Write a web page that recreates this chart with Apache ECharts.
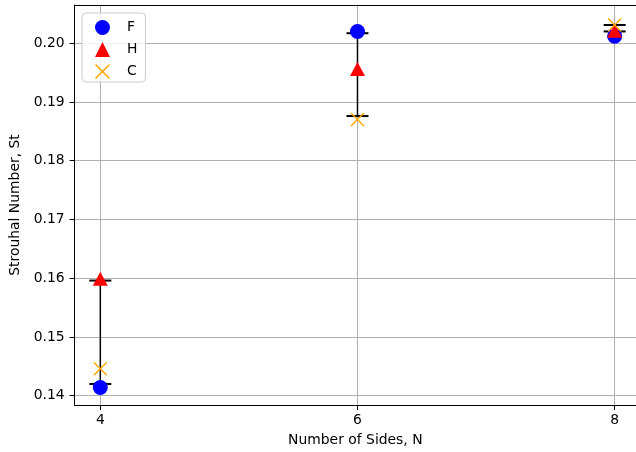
<!DOCTYPE html>
<html>
<head>
<meta charset="utf-8">
<script src="https://cdn.jsdelivr.net/npm/echarts@6/dist/echarts.min.js"></script>
<style>html,body{margin:0;padding:0;background:#fff;}#c{width:636px;height:452px;}</style>
</head>
<body>
<div id="c"></div>
<script>
const sides = [4, 6, 8];
const valF = [0.1414, 0.2020, 0.2012];
const valH = [0.1599, 0.1956, 0.2021];
const valC = [0.1446, 0.1870, 0.2031];
const errLow = [0.1420, 0.1876, 0.2020];
const errHigh = [0.1596, 0.2017, 0.2031];
const xTicks = [4, 6, 8];
const yTicks = [0.14, 0.15, 0.16, 0.17, 0.18, 0.19, 0.20];

const FONT = 'DejaVu Sans';
const xShape = 'path://M0,7L7,0L50,43L93,0L100,7L57,50L100,93L93,100L50,57L7,100L0,93L43,50Z';

const chart = echarts.init(document.getElementById('c'), null, {renderer: 'canvas'});
chart.setOption({
  animation: false,
  backgroundColor: '#fff',
  textStyle: {fontFamily: FONT},
  grid: {left: 74.6, right: 0, top: 5, bottom: 46},
  legend: {
    left: 82, top: 13, orient: 'vertical',
    padding: [7, 8, 3, 13],
    itemWidth: 15, itemHeight: 15, itemGap: 7,
    backgroundColor: 'rgba(255,255,255,0.8)',
    borderColor: '#cccccc', borderWidth: 1, borderRadius: 4,
    textStyle: {fontFamily: FONT, fontSize: 13.9, color: '#000', padding: [0, 0, 0, 12]},
    data: [
      {name: 'F', icon: 'circle'},
      {name: 'H', icon: 'triangle'},
      {name: 'C', icon: xShape}
    ]
  },
  xAxis: [{
    type: 'value', min: 3.8, max: 8.166, position: 'bottom',
    name: 'Number of Sides, N', nameLocation: 'middle', nameGap: 28,
    nameTextStyle: {fontFamily: FONT, fontSize: 13.9, color: '#000'},
    axisLine: {show: true, onZero: false, lineStyle: {color: '#000', width: 1}},
    axisTick: {show: true, length: 5, lineStyle: {color: '#000'}, customValues: xTicks},
    axisLabel: {fontFamily: FONT, fontSize: 13.9, color: '#000', margin: 8, customValues: xTicks, formatter: v => String(v)},
    splitLine: {show: true, lineStyle: {color: '#b0b0b0', width: 1}}
  }, {
    type: 'value', min: 3.8, max: 8.166, position: 'top',
    axisLine: {show: true, onZero: false, lineStyle: {color: '#000', width: 1}},
    axisTick: {show: false}, axisLabel: {show: false}, splitLine: {show: false}
  }],
  yAxis: {
    type: 'value', min: 0.13842, max: 0.2065,
    name: 'Strouhal Number, St', nameLocation: 'middle', nameGap: 52,
    nameTextStyle: {fontFamily: FONT, fontSize: 13.9, color: '#000'},
    axisLine: {show: true, onZero: false, lineStyle: {color: '#000', width: 1}},
    axisTick: {show: true, length: 5, lineStyle: {color: '#000'}, customValues: yTicks},
    axisLabel: {fontFamily: FONT, fontSize: 13.9, color: '#000', margin: 10, customValues: yTicks, formatter: v => v.toFixed(2)},
    splitLine: {show: true, lineStyle: {color: '#b0b0b0', width: 1}}
  },
  series: [
    {
      name: 'err', type: 'custom', z: 1,
      data: sides.map((s, i) => [s, errLow[i], errHigh[i]]),
      renderItem: function (params, api) {
        const x = api.value(0);
        const lo = api.coord([x, api.value(1)]);
        const hi = api.coord([x, api.value(2)]);
        const cap = 11;
        return {
          type: 'group',
          children: [
            {type: 'line', shape: {x1: lo[0], y1: lo[1], x2: hi[0], y2: hi[1]}, style: {stroke: '#000', lineWidth: 1.5}},
            {type: 'line', shape: {x1: lo[0] - cap, y1: lo[1], x2: lo[0] + cap, y2: lo[1]}, style: {stroke: '#000', lineWidth: 2}},
            {type: 'line', shape: {x1: hi[0] - cap, y1: hi[1], x2: hi[0] + cap, y2: hi[1]}, style: {stroke: '#000', lineWidth: 2}}
          ]
        };
      }
    },
    {
      name: 'F', type: 'scatter', z: 3, symbol: 'circle', symbolSize: 15,
      itemStyle: {color: '#0000ff', opacity: 1},
      data: sides.map((s, i) => [s, valF[i]])
    },
    {
      name: 'H', type: 'scatter', z: 4, symbol: 'triangle', symbolSize: [15, 14],
      itemStyle: {color: '#ff0000', opacity: 1},
      data: sides.map((s, i) => [s, valH[i]])
    },
    {
      name: 'C', type: 'scatter', z: 5, symbol: xShape, symbolSize: 14,
      itemStyle: {color: '#ffa500', opacity: 1},
      data: sides.map((s, i) => [s, valC[i]])
    }
  ]
});
</script>
</body>
</html>
